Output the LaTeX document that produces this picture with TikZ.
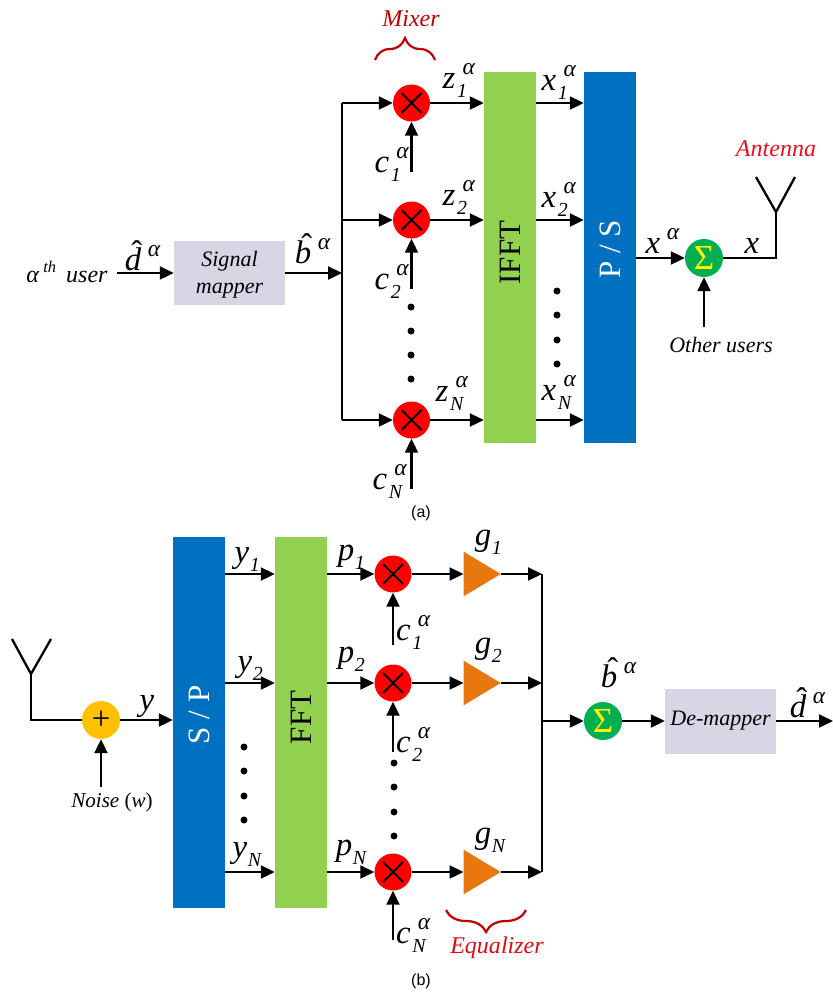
\documentclass[tikz,border=0pt]{standalone}
\usepackage{fontspec}
\setmainfont{Liberation Serif}
\newfontfamily\capfont{Liberation Sans}
\usetikzlibrary{arrows.meta,shapes.geometric,decorations.pathreplacing}
\def\pxu{0.3mm}
\definecolor{mixred}{HTML}{FF0000}
\definecolor{sumgreen}{HTML}{00B050}
\definecolor{addamber}{HTML}{FFC000}
\definecolor{fftgreen}{HTML}{92D050}
\definecolor{psblue}{HTML}{0070C0}
\definecolor{maplav}{HTML}{D9D5E4}
\definecolor{gainorange}{HTML}{E9770F}
\definecolor{notered}{HTML}{C00000}
\definecolor{antred}{HTML}{E8101E}
\newcommand{\symb}[2]{#1\rlap{\smash{\kern.05em\raisebox{-.3em}{\fontsize{17}{18}\selectfont #2}}}\rlap{\smash{\kern.22em\raisebox{.4em}{\fontsize{20}{21}\selectfont α}}}}
\newcommand{\subsym}[2]{#1\rlap{\smash{\kern.02em\raisebox{-.3em}{\fontsize{17}{18}\selectfont #2}}}}
\newcommand{\supsym}[1]{#1\rlap{\smash{\kern.2em\raisebox{.4em}{\fontsize{20}{21}\selectfont α}}}}
\newcommand{\hatted}[1]{\sbox0{#1}\rlap{\kern.12em\makebox[\wd0]{\smash{\raisebox{.2em}{\upshape ˆ}}}}\box0}
\tikzset{
  sig/.style={line width=2.3*\pxu,-{Triangle[length=14*\pxu,width=13*\pxu]}},
  wire/.style={line width=2.3*\pxu},
  panel/.style={rotate=90,minimum width=371*\pxu,minimum height=52*\pxu,inner sep=0pt,font=\fontsize{26.5}{28}\selectfont},
  block/.style={fill=maplav,minimum width=111*\pxu,minimum height=64*\pxu,inner sep=0pt,align=center,font=\fontsize{18.8}{23}\selectfont\itshape},
  mixer/.style={circle,fill=mixred,minimum size=37*\pxu,inner sep=0pt,path picture={
    \draw[line width=1.8*\pxu] ([shift={(-10,-10)}]path picture bounding box.center) -- ([shift={(10,10)}]path picture bounding box.center);
    \draw[line width=1.8*\pxu] ([shift={(-10,10)}]path picture bounding box.center) -- ([shift={(10,-10)}]path picture bounding box.center);}},
  sumnode/.style={circle,fill=sumgreen,minimum size=38*\pxu,inner sep=0pt,text=yellow,font=\fontsize{30}{31}\selectfont},
  gain/.style={isosceles triangle,isosceles triangle apex angle=62,fill=gainorange,minimum height=37*\pxu,inner sep=0pt,anchor=lower side},
  siglabel/.style={anchor=base,inner sep=0pt,font=\fontsize{28}{30}\selectfont\itshape},
  note/.style={inner sep=0pt,font=\fontsize{20.5}{22}\selectfont\itshape},
  dotmark/.style={circle,fill=black,minimum size=7*\pxu,inner sep=0pt},
  bracket/.style={decorate,line width=2.2*\pxu,color=notered},
}
\begin{document}
\begin{tikzpicture}[x=0.3mm,y=-0.3mm]
\useasboundingbox (0,0) rectangle (833,996);
% part (a)
\node[note,font=\fontsize{20.5}{22}\selectfont] (userlabel) at (67,272) {\textit{α}\,\raisebox{.4em}{\fontsize{14}{15}\selectfont\textit{th}}\, \textit{user}};
\coordinate (userin) at (117,273);
\node[block] (mapper) at (229.5,273) {\rule{0pt}{.88em}Signal\\mapper};
\coordinate (busa) at (342,273);
\draw[sig] (userin) -- (mapper.west);
\draw[sig] (mapper.east) -- (busa);
\node[siglabel] (da) at (133,270) {\supsym{\hatted{d}}};
\node[siglabel] (ba) at (303,263) {\supsym{\hatted{b}}};
\node[panel,fill=fftgreen] (ifft) at (510,257.5) {\hspace*{3mm}IFFT};
\node[panel,fill=psblue,text=white] (ps) at (610,257.5) {\hspace*{5mm}P / S};
\foreach\n/\y/\zx/\zb/\xb/\cx/\cb in {1/103/449/88/90/382/172,2/220/449/205/207/382/289,N/420/442/401/400/380/489} {
  \node[mixer] (mixa\n) at (411.5,\y) {};
  \coordinate (ca\n) at (411.5,\cb);
  \draw[sig] (busa |- mixa\n) -- (mixa\n.west);
  \draw[sig] (ca\n) -- (mixa\n.south);
  \draw[sig] (mixa\n.east) -- (ifft.north |- mixa\n);
  \draw[sig] (ifft.south |- mixa\n) -- (ps.north |- mixa\n);
  \node[siglabel] (cla\n) at (\cx,\cb) {\symb{c}{\n}};
  \node[siglabel] (zla\n) at (\zx,\zb) {\symb{z}{\n}};
  \node[siglabel] (xla\n) at (549,\xb) {\symb{x}{\n}};
}
\draw[wire] (busa |- mixa1) -- (busa |- mixaN);
\foreach\y in {307,331,355,379} \node[dotmark] (dotm\y) at (411,\y) {};
\foreach\y in {291,315,340,364} \node[dotmark] (dotx\y) at (557,\y) {};
\node[sumnode] (suma) at (704,258) {Σ};
\draw[sig] (ps.south |- suma) -- (suma.west);
\node[siglabel] (xa) at (653,253) {\supsym{x}};
\coordinate (antfoot) at (776,212);
\coordinate (antleft) at (756,177);
\coordinate (antright) at (795,177);
\draw[wire] (suma.east) -| (antfoot);
\draw[wire] (antleft) -- (antfoot) -- (antright);
\node[siglabel] (xsig) at (752,253) {x};
\node[note,text=antred] (antenna) at (776,149) {Antenna};
\node[note,font=\fontsize{18.8}{20}\selectfont\itshape] (others) at (721,345) {Other users};
\coordinate (othersin) at (704,327);
\draw[sig] (othersin) -- (suma.south);
\node[note,text=notered] (mixer) at (411,19) {Mixer};
\coordinate (bracel) at (375,60);
\coordinate (bracer) at (435,60);
\draw[bracket,decoration={brace,amplitude=22*\pxu}] (bracel) -- (bracer);
\node[inner sep=0pt,font=\capfont\fontsize{13.7}{15}\selectfont] (capa) at (421,513) {(a)};
% part (b)
\coordinate (rxleft) at (12,639);
\coordinate (rxright) at (51,639);
\coordinate (rxfoot) at (31,674);
\node[circle,fill=addamber,minimum size=38*\pxu,inner sep=0pt,font=\fontsize{28}{29}\selectfont] (adder) at (101,720) {+};
\draw[wire] (rxleft) -- (rxfoot) -- (rxright);
\draw[wire] (rxfoot) |- (adder.west);
\coordinate (noisein) at (101,787);
\draw[sig] (noisein) -- (adder.south);
\node[note,font=\fontsize{18}{20}\selectfont] (noise) at (112,802) {\textit{Noise} (\textit{w})};
\node[panel,fill=psblue,text=white] (sp) at (199,722.5) {\hspace*{4.5mm}S / P};
\node[panel,fill=fftgreen] (fft) at (301,722.5) {\hspace*{3mm}FFT};
\draw[sig] (adder.east) -- (sp.north |- adder);
\node[siglabel] (ysig) at (147,710) {y};
\coordinate (busb) at (542,721);
\foreach\n/\y/\yx/\yb/\px/\pb/\cb/\ct/\gb in {1/574/242/562/346/560/640/645/545,2/683/245/671/346/662/752/752/653,N/872/240/857/344/855/943/940/843} {
  \node[mixer] (mixb\n) at (393,\y) {};
  \node[gain] (gain\n) at (463.5,\y) {};
  \coordinate (cb\n) at (393,\ct);
  \draw[sig] (sp.south |- mixb\n) -- (fft.north |- mixb\n);
  \draw[sig] (fft.south |- mixb\n) -- (mixb\n.west);
  \draw[sig] (cb\n) -- (mixb\n.south);
  \draw[sig] (mixb\n.east) -- (gain\n.lower side);
  \draw[sig] (gain\n.apex) -- (busb |- gain\n.apex);
  \node[siglabel] (clb\n) at (403.5,\cb) {\symb{c}{\n}};
  \node[siglabel] (yl\n) at (\yx,\yb) {\subsym{y}{\n}};
  \node[siglabel] (pl\n) at (\px,\pb) {\subsym{p}{\n}};
  \node[siglabel] (gl\n) at (483,\gb) {\subsym{g}{\n}};
}
\draw[wire] (busb |- mixb1) -- (busb |- mixbN);
\foreach\y in {747,771,796,820} \node[dotmark] (doty\y) at (244,\y) {};
\foreach\y in {763,787,812,836} \node[dotmark] (dotc\y) at (394,\y) {};
\node[sumnode] (sumb) at (603,721) {Σ};
\node[block,minimum height=65*\pxu] (demapper) at (720.5,721) {De-mapper};
\coordinate (dout) at (833,721);
\draw[sig] (busb) -- (sumb.west);
\draw[sig] (sumb.east) -- (demapper.west);
\draw[sig] (demapper.east) -- (dout);
\node[siglabel] (bb) at (609,687) {\supsym{\hatted{b}}};
\node[siglabel] (db) at (798,717) {\supsym{\hatted{d}}};
\coordinate (bracebl) at (446,910);
\coordinate (bracebr) at (526,910);
\draw[bracket,decoration={brace,amplitude=22*\pxu}] (bracebr) -- (bracebl);
\node[note,text=antred!70!notered] (equalizer) at (497,948) {Equalizer};
\node[inner sep=0pt,font=\capfont\fontsize{13.7}{15}\selectfont] (capb) at (421,981) {(b)};
\end{tikzpicture}
\end{document}
